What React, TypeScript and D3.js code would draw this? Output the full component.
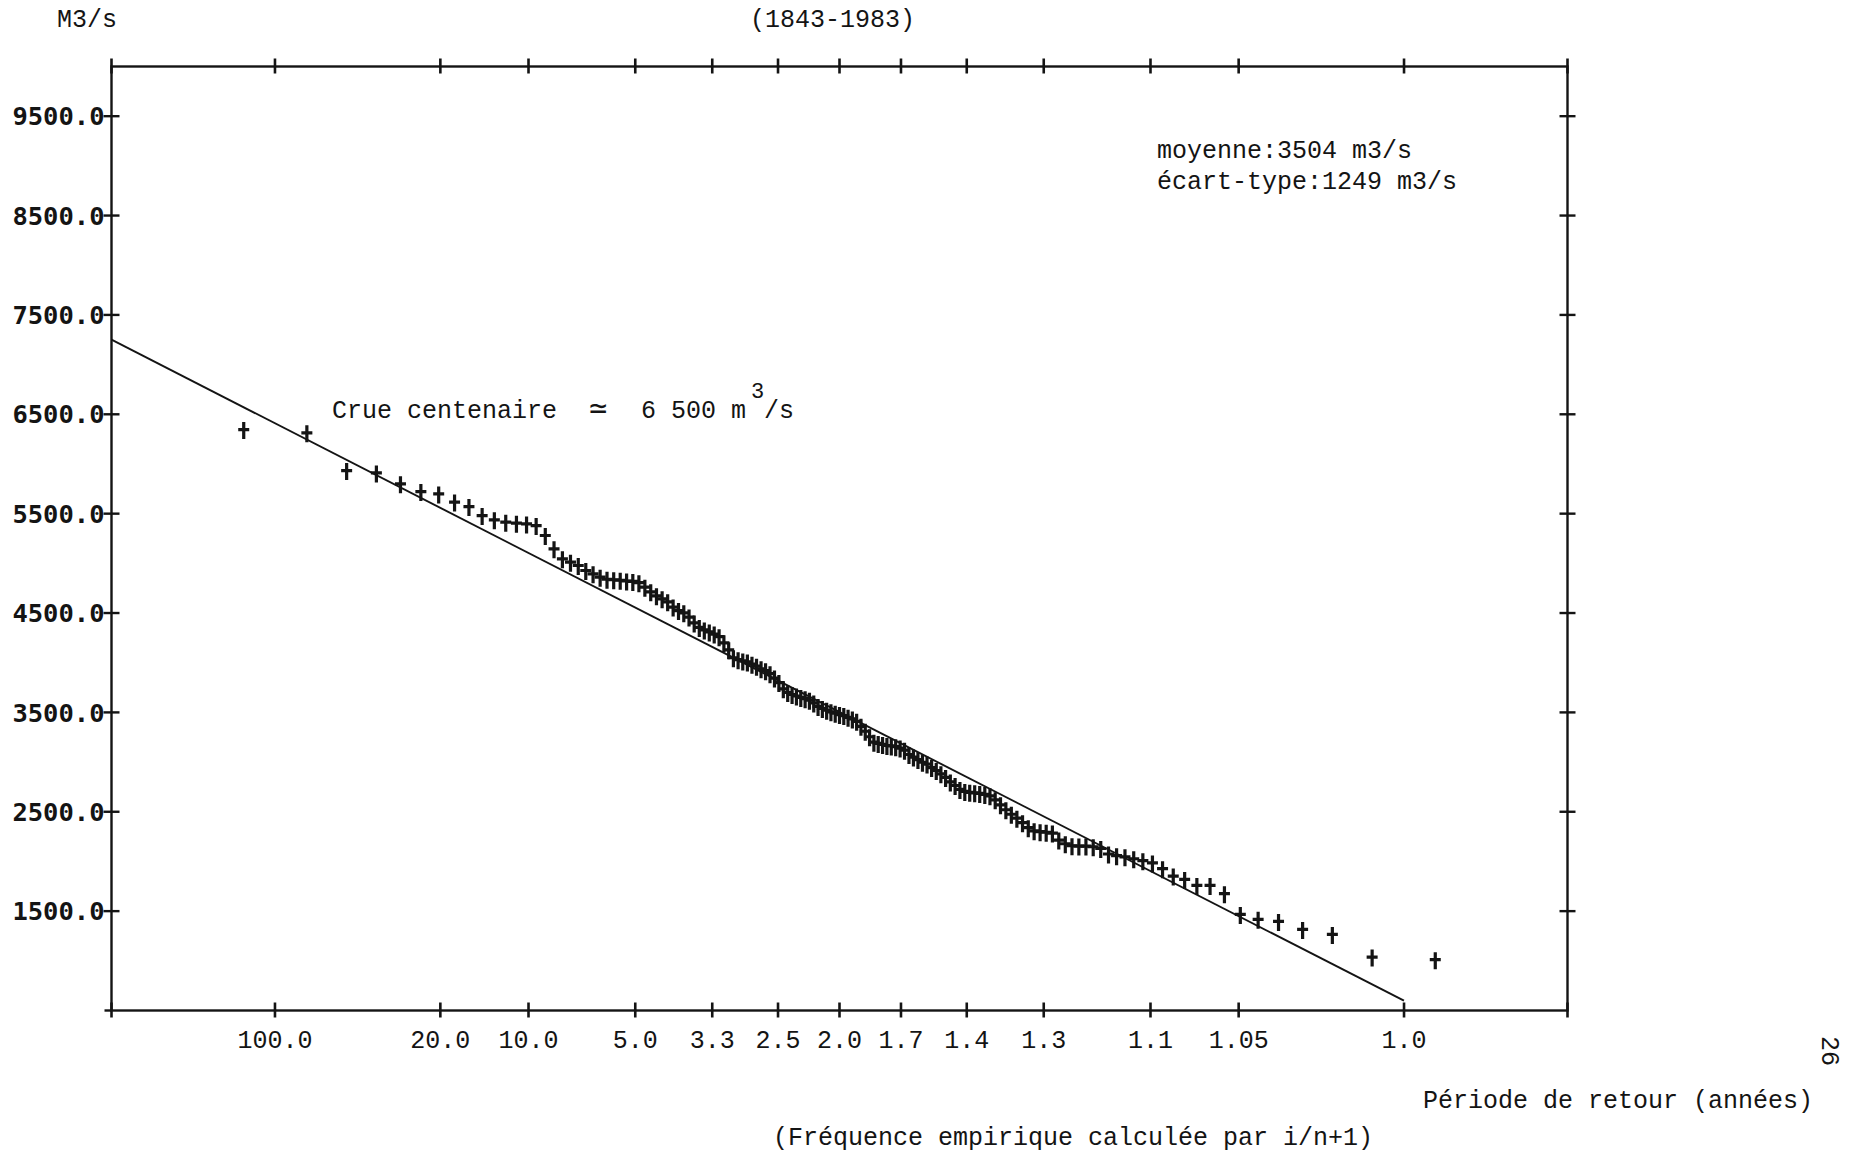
import React from "react";
import * as d3 from "d3";

// ---- data ----
// annual peak discharges 1843-1983, sorted from largest (rank 1) to smallest (rank 141), m3/s
const annualPeaks = [
  6336, 6303, 5924, 5900, 5790, 5712, 5689, 5606, 5561, 5471, 5428, 5404, 5394, 5387, 5370,
  5270, 5136, 5035, 5002, 4968, 4918, 4884, 4851,
  4830, 4825, 4820, 4812, 4808, 4795, 4750, 4703, 4663, 4633, 4603, 4550, 4515, 4492, 4449,
  4390, 4345, 4320, 4300, 4278, 4252, 4190, 4120, 4040, 4020, 4008, 3998, 3975, 3955, 3929, 3910, 3880,
  3835, 3790, 3727, 3690, 3670, 3655, 3641, 3628, 3612, 3585, 3550, 3530, 3512, 3496, 3482, 3468,
  3458, 3440, 3424, 3400, 3350, 3300, 3245, 3190, 3178, 3168, 3157, 3153, 3145, 3131, 3110,
  3066, 3040, 3015, 2988, 2970, 2935, 2905, 2872, 2835, 2790, 2754, 2715, 2695, 2686, 2681, 2674, 2664, 2650,
  2610, 2560, 2510, 2465, 2425, 2380, 2330, 2298, 2290, 2284, 2275, 2205, 2168, 2148, 2145, 2145, 2138, 2120,
  2065, 2048, 2036, 2017, 1998, 1975, 1917, 1843, 1809, 1749, 1749, 1666, 1457, 1407, 1386, 1306, 1256, 1028, 1001,
];

const yTickValues = [1500, 2500, 3500, 4500, 5500, 6500, 7500, 8500, 9500];
const yTickLabels = ["1500.0", "2500.0", "3500.0", "4500.0", "5500.0", "6500.0", "7500.0", "8500.0", "9500.0"];

const returnPeriodLabels = ["100.0", "20.0", "10.0", "5.0", "3.3", "2.5", "2.0", "1.7", "1.4", "1.3", "1.1", "1.05", "1.0"];
const exceedanceProbs = [0.01, 0.05, 0.1, 0.2, 0.3, 0.4, 0.5, 0.6, 0.7, 0.8, 0.9, 0.95, 0.99];

const fitMean = 3504;
const fitSd = 1249;
const fitRangeZ = [3, -2.326];

// ---- normal probability transform ----
function invNorm(p: number): number {
  const a = [-3.969683028665376e1, 2.209460984245205e2, -2.759285104469687e2, 1.38357751867269e2, -3.066479806614716e1, 2.506628277459239];
  const b = [-5.447609879822406e1, 1.615858368580409e2, -1.556989798598866e2, 6.680131188771972e1, -1.328068155288572e1];
  const c = [-7.784894002430293e-3, -3.223964580411365e-1, -2.400758277161838, -2.549732539343734, 4.374664141464968, 2.938163982698783];
  const d = [7.784695709041462e-3, 3.224671290700398e-1, 2.445134137142996, 3.754408661907416];
  const pl = 0.02425;
  const ph = 1 - pl;
  let q: number, r: number;
  if (p < pl) {
    q = Math.sqrt(-2 * Math.log(p));
    return (((((c[0] * q + c[1]) * q + c[2]) * q + c[3]) * q + c[4]) * q + c[5]) / ((((d[0] * q + d[1]) * q + d[2]) * q + d[3]) * q + 1);
  }
  if (p <= ph) {
    q = p - 0.5;
    r = q * q;
    return ((((((a[0] * r + a[1]) * r + a[2]) * r + a[3]) * r + a[4]) * r + a[5]) * q) / (((((b[0] * r + b[1]) * r + b[2]) * r + b[3]) * r + b[4]) * r + 1);
  }
  q = Math.sqrt(-2 * Math.log(1 - p));
  return -(((((c[0] * q + c[1]) * q + c[2]) * q + c[3]) * q + c[4]) * q + c[5]) / ((((d[0] * q + d[1]) * q + d[2]) * q + d[3]) * q + 1);
}

const W = 1860;
const H = 1158;
const L = 111.5;
const R = 1567.5;
const T = 66.5;
const B = 1010.5;

const zScale = d3.scaleLinear().domain([3, -3]).range([L, R]);
const xOfExceed = (p: number) => zScale(invNorm(1 - p));
const yScale = d3.scaleLinear().domain([500, 10000]).range([B, T]);

const MONO = "'Liberation Mono', 'DejaVu Sans Mono', monospace";
const INK = "#141414";

export default function App() {
  const n = annualPeaks.length;
  const points = annualPeaks.map((q, i) => ({
    x: xOfExceed((i + 1) / (n + 1)),
    y: yScale(q),
  }));

  const lineGen = d3
    .line<number>()
    .x((z) => zScale(z))
    .y((z) => yScale(fitMean + fitSd * z));

  const xTicks = exceedanceProbs.map((p) => xOfExceed(p));
  const allXTicks = [L, ...xTicks, R];
  const allYTicks = [...yTickValues.map((v) => yScale(v))];

  return (
    <svg
      width={W}
      height={H}
      viewBox={`0 0 ${W} ${H}`}
      style={{ position: "absolute", left: 0, top: 0, background: "#fff" }}
    >
      <rect x={0} y={0} width={W} height={H} fill="#fff" />

      {/* frame */}
      <rect x={L} y={T} width={R - L} height={B - T} fill="none" stroke={INK} strokeWidth={2.4} />

      {/* top & bottom ticks */}
      {allXTicks.map((x, i) => (
        <g key={"xt" + i}>
          <line x1={x} x2={x} y1={T - 8} y2={T + 7} stroke={INK} strokeWidth={2.6} />
          <line x1={x} x2={x} y1={B - 8} y2={B + 7} stroke={INK} strokeWidth={2.6} />
        </g>
      ))}
      {/* bottom-left corner extension */}
      <line x1={L - 7} x2={L} y1={B} y2={B} stroke={INK} strokeWidth={2.4} />

      {/* left & right ticks */}
      {allYTicks.map((y, i) => (
        <g key={"yt" + i}>
          <line x1={L - 8} x2={L + 8} y1={y} y2={y} stroke={INK} strokeWidth={2.4} />
          <line x1={R - 8} x2={R + 8} y1={y} y2={y} stroke={INK} strokeWidth={2.4} />
        </g>
      ))}

      {/* y tick labels */}
      {yTickValues.map((v, i) => (
        <text
          key={"yl" + i}
          x={L - 7}
          y={yScale(v)}
          dy="0.36em"
          textAnchor="end"
          fontFamily="'DejaVu Sans Mono', monospace"
          fontWeight="bold"
          fontSize={25.5}
          fill={INK}
        >
          {yTickLabels[i]}
        </text>
      ))}

      {/* x tick labels */}
      {exceedanceProbs.map((p, i) => (
        <text
          key={"xl" + i}
          x={xOfExceed(p)}
          y={1048}
          textAnchor="middle"
          fontFamily={MONO}
          fontSize={25}
          fill={INK}
        >
          {returnPeriodLabels[i]}
        </text>
      ))}

      {/* fitted normal law */}
      <path d={lineGen(fitRangeZ) || ""} fill="none" stroke={INK} strokeWidth={1.9} />

      {/* empirical points */}
      {points.map((pt, i) => (
        <path
          key={"p" + i}
          d={`M${pt.x},${pt.y - 8.5}V${pt.y + 8.5}M${pt.x - 5.5},${pt.y - 1}H${pt.x + 5.5}`}
          stroke={INK}
          strokeWidth={3.2}
          fill="none"
        />
      ))}

      {/* texts */}
      <text x={57} y={27} fontFamily={MONO} fontSize={25} fill={INK}>M3/s</text>
      <text x={750} y={27} fontFamily={MONO} fontSize={25} fill={INK}>(1843-1983)</text>

      <text x={332} y={418} fontFamily={MONO} fontSize={25} fill={INK}>Crue centenaire</text>
      <text x={589} y={418} fontFamily={MONO} fontSize={30} fill={INK}>≃</text>
      <text x={641} y={418} fontFamily={MONO} fontSize={25} fill={INK}>6 500 m</text>
      <text x={751} y={398} fontFamily={MONO} fontSize={22} fill={INK}>3</text>
      <text x={764} y={418} fontFamily={MONO} fontSize={25} fill={INK}>/s</text>

      <text x={1157} y={158} fontFamily={MONO} fontSize={25} fill={INK}>moyenne:3504 m3/s</text>
      <text x={1157} y={189} fontFamily={MONO} fontSize={25} fill={INK}>écart-type:1249 m3/s</text>

      <text x={1423} y={1108} fontFamily={MONO} fontSize={25} fill={INK}>Période de retour (années)</text>
      <text x={773} y={1145} fontFamily={MONO} fontSize={25} fill={INK}>(Fréquence empirique calculée par i/n+1)</text>

      <text
        x={0}
        y={0}
        transform="translate(1822,1051) rotate(90)"
        textAnchor="middle"
        fontFamily={MONO}
        fontSize={25}
        fill={INK}
      >
        26
      </text>
    </svg>
  );
}
